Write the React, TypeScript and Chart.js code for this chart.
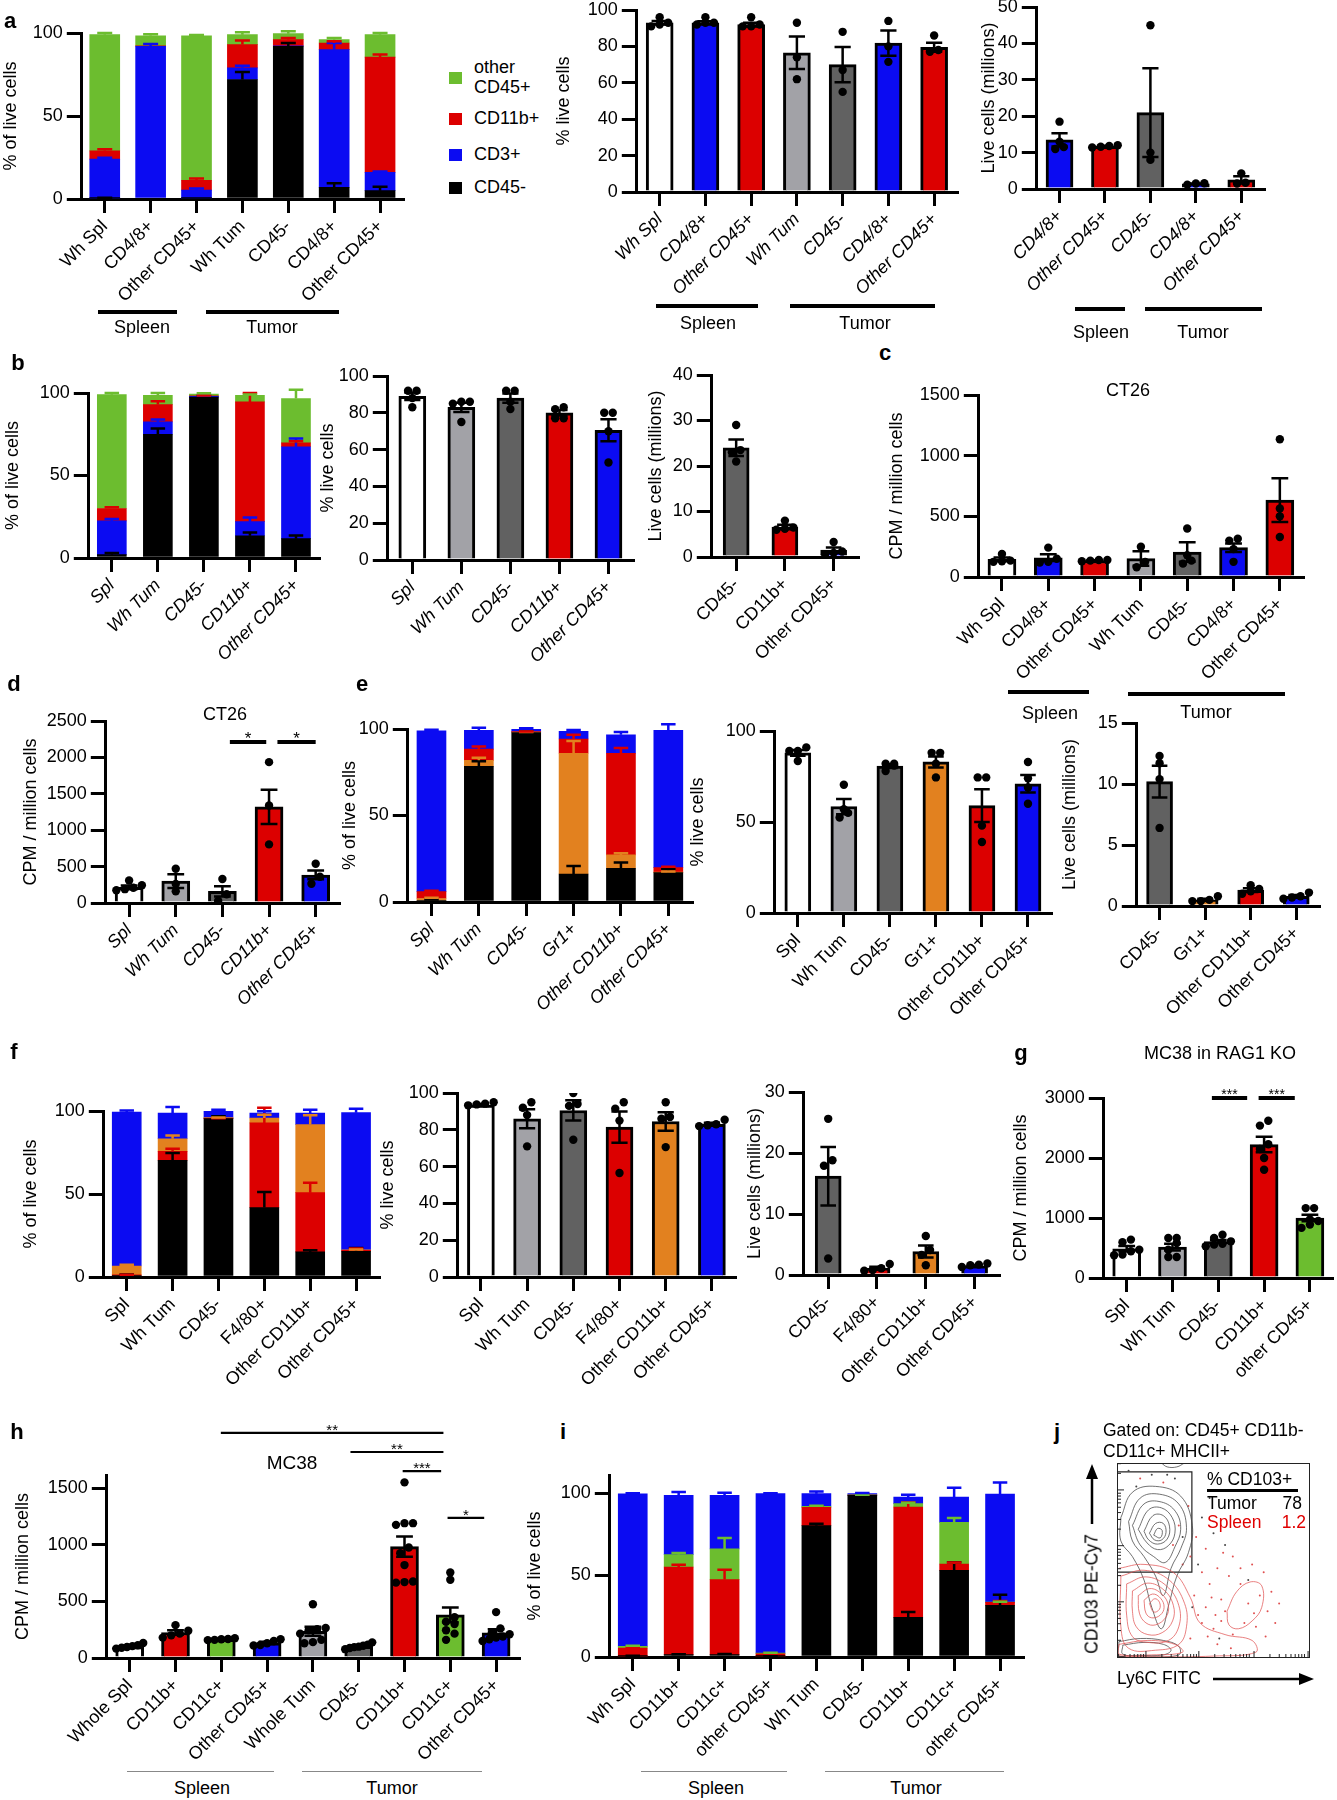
import React, { useEffect, useRef } from 'react';
import { Chart, registerables } from 'chart.js';

Chart.register(...registerables);

const FONT = "'Liberation Sans', Arial, Helvetica, sans-serif";
const FS = 18;

const GREEN = '#6cbd2f';
const RED = '#dc0000';
const BLUE = '#0b0bf2';
const BLACK = '#000000';
const ORANGE = '#e2811f';
const LIGHT = '#a2a2a7';
const DARK = '#616161';
const WHITE = '#ffffff';

// ===================== DATA =====================
// ---- a (stacked composition) ----
const a1Categories = ['Wh Spl', 'CD4/8+', 'Other CD45+', 'Wh Tum', 'CD45-', 'CD4/8+', 'Other CD45+'];
const a1CD45neg = [0.5, 0, 0.3, 72, 92, 7, 5];
const a1CD3 = [23.5, 92, 5, 7, 0.3, 83, 11];
const a1CD11b = [5, 0.3, 6, 14, 3.7, 4, 69.5];
const a1OtherCD45 = [70, 6, 87, 6, 3.6, 2, 13.5];
const a1CD45negErr = [0.3, 0, 0, 4.5, 2, 2.5, 2.4];
const a1CD3Err = [0.8, 1.4, 1, 1.3, 0, 4, 0.5];
const a1CD11bErr = [1, 0, 1, 2.5, 1, 1, 1.5];
const a1OtherCD45Err = [1, 1, 0.5, 1.5, 1.5, 1, 1];

// ---- a (middle) % live cells ----
const a2Categories = ['Wh Spl', 'CD4/8+', 'Other CD45+', 'Wh Tum', 'CD45-', 'CD4/8+', 'Other CD45+'];
const a2Means = [93, 93, 92, 76.5, 70, 81.8, 79.5];
const a2Sem = [1, 0.8, 1, 8.9, 9.7, 7, 2.5];
const a2Points = [[96, 93, 92, 91], [96, 93, 93, 92], [96, 92, 91, 91], [93, 74, 62], [88, 67, 55], [94, 80, 71.5], [86, 78, 77]];

// ---- a (right) live cells (millions) ----
const a3Categories = ['CD4/8+', 'Other CD45+', 'CD45-', 'CD4/8+', 'Other CD45+'];
const a3Means = [13.5, 11.7, 21, 1.4, 2.5];
const a3Sem = [1.8, 0.2, 12.2, 0.1, 1];
const a3Points = [[18.5, 13, 11.5, 11], [12, 11.8, 11.6, 11.4], [45, 10, 8], [1.5, 1.2, 1.6], [4.3, 1.7, 1.5]];

// ---- b (stacked) ----
const b1Categories = ['Spl', 'Wh Tum', 'CD45-', 'CD11b+', 'Other CD45+'];
const b1CD45neg = [2, 75, 97.5, 13.5, 11.7];
const b1CD3 = [20.5, 7.5, 0.5, 8.5, 55.7];
const b1CD11b = [7.5, 10.5, 0.3, 72.6, 2.4];
const b1OtherCD45 = [69, 5.6, 1, 4, 26.8];
const b1CD45negErr = [1, 3.5, 0.5, 2, 2];
const b1CD3Err = [1.2, 1.5, 0.3, 2.5, 5];
const b1CD11bErr = [0.8, 2, 0.2, 5.4, 1];
const b1OtherCD45Err = [1, 1.4, 0.5, 0.5, 5.4];

// ---- b (middle) ----
const b2Categories = ['Spl', 'Wh Tum', 'CD45-', 'CD11b+', 'Other CD45+'];
const b2Means = [89, 83, 88, 80, 70.5];
const b2Sem = [2, 2.5, 2.5, 1.5, 6];
const b2Points = [[92, 92, 88, 83], [86, 86, 85, 75], [92, 92, 86, 82], [83, 82, 77, 77], [80, 80, 70, 53]];

// ---- b (right) ----
const b3Categories = ['CD45-', 'CD11b+', 'Other CD45+'];
const b3Means = [24, 6.6, 1.5];
const b3Sem = [1.8, 0.5, 0.6];
const b3Points = [[29, 23.5, 23, 21], [8, 6.5, 6.2, 6], [3.3, 1.2, 0.9, 0.6]];

// ---- c CT26 CPM ----
const cCategories = ['Wh Spl', 'CD4/8+', 'Other CD45+', 'Wh Tum', 'CD45-', 'CD4/8+', 'Other CD45+'];
const cMeans = [145, 159, 136, 152, 206, 242, 633];
const cSem = [15, 28, 3, 60, 80, 35, 180];
const cPoints = [[190, 135, 130, 125], [242, 150, 120, 125], [140, 135, 130, 140], [250, 125, 80], [400, 180, 135, 110], [315, 300, 230, 125], [1135, 565, 500, 330]];

// ---- d CT26 CPM ----
const dCategories = ['Spl', 'Wh Tum', 'CD45-', 'CD11b+', 'Other CD45+'];
const dMeans = [215, 300, 160, 1320, 385];
const dSem = [25, 95, 70, 235, 60];
const dPoints = [[310, 245, 210, 190, 175], [470, 260, 160], [330, 120, 30], [1935, 1340, 805], [540, 360, 265]];
const dSigFrom = [2.16, 3.18];
const dSigTo = [2.94, 4.0];
const dSigY = [2210, 2210];
const dSigLabel = ['*', '*'];

// ---- e (stacked) ----
const e1Categories = ['Spl', 'Wh Tum', 'CD45-', 'Gr1+', 'Other CD11b+', 'Other CD45+'];
const e1CD45neg = [1, 78.4, 98, 16.2, 19.5, 17];
const e1Gr1 = [1, 3.5, 0.2, 69.8, 7.7, 0.3];
const e1OtherCD11b = [4, 6.5, 0.3, 8.2, 58.8, 2.6];
const e1OtherCD45 = [93, 10.8, 1.5, 4.4, 10.7, 79.3];
const e1CD45negErr = [0.5, 3, 0.5, 4.6, 3.3, 2];
const e1Gr1Err = [0.5, 1.5, 0.1, 7, 1, 0.3];
const e1OtherCD11bErr = [0.5, 1.5, 0.1, 2.5, 3, 0.5];
const e1OtherCD45Err = [0.5, 1.5, 0.4, 0.8, 1.5, 3.5];

// ---- e (middle) ----
const e2Categories = ['Spl', 'Wh Tum', 'CD45-', 'Gr1+', 'Other CD11b+', 'Other CD45+'];
const e2Means = [88, 58.5, 80.7, 83, 59, 71];
const e2Sem = [1.6, 4.2, 1, 3, 9, 4.8];
const e2Points = [[91, 89, 89, 83.5], [70.5, 57, 55, 52.5], [82, 82, 81, 78], [88, 88, 82, 74.5], [74.5, 74.5, 48, 39], [83, 74, 69, 60]];

// ---- e (right) ----
const e3Categories = ['CD45-', 'Gr1+', 'Other CD11b+', 'Other CD45+'];
const e3Means = [10.2, 0.5, 1.3, 0.8];
const e3Sem = [1.3, 0.1, 0.15, 0.1];
const e3Points = [[12.3, 11.7, 10.4, 6.4], [0.8, 0.5, 0.4, 0.4], [1.7, 1.4, 1.2, 1.0], [1.1, 0.8, 0.7, 0.6]];

// ---- f (stacked) ----
const f1Categories = ['Spl', 'Wh Tum', 'CD45-', 'F4/80+', 'Other CD11b+', 'Other CD45+'];
const f1CD45neg = [1, 70.3, 95.4, 41.8, 15.1, 15.5];
const f1F480 = [0.3, 5.4, 0.2, 51, 35.7, 0.6];
const f1OtherCD11b = [5.3, 7.6, 0.4, 3, 41, 0.2];
const f1OtherCD45 = [92.7, 15.5, 3.8, 3, 7, 82.7];
const f1CD45negErr = [0.5, 4.4, 1.4, 9.4, 1, 2];
const f1F480Err = [0.1, 1.5, 0.1, 9.2, 6, 1];
const f1OtherCD11bErr = [0.8, 2, 0.1, 2, 5.6, 0.2];
const f1OtherCD45Err = [1, 3.6, 1, 1, 2, 2.4];

// ---- f (middle) ----
const f2Categories = ['Spl', 'Wh Tum', 'CD45-', 'F4/80+', 'Other CD11b+', 'Other CD45+'];
const f2Means = [93.5, 86, 90.5, 81.5, 84.5, 83];
const f2Sem = [0.5, 5.2, 5.5, 8.5, 5, 0.8];
const f2Points = [[95, 94.2, 93.8, 93.3], [95, 92, 88, 71], [100, 94, 93, 74.6], [95, 91.5, 85, 56.5], [95, 87, 86, 70.6], [85.5, 83, 82.5, 82]];

// ---- f (right) ----
const f3Categories = ['CD45-', 'F4/80+', 'Other CD11b+', 'Other CD45+'];
const f3Means = [16.2, 1.1, 3.85, 1.5];
const f3Sem = [4.8, 0.25, 1.0, 0.15];
const f3Points = [[25.6, 18.8, 17.9, 2.7], [1.8, 1.1, 0.8, 0.7], [6.4, 4.1, 3.3, 1.6], [1.9, 1.7, 1.6, 1.3]];

// ---- g MC38 in RAG1 KO ----
const gCategories = ['Spl', 'Wh Tum', 'CD45-', 'CD11b+', 'other CD45+'];
const gMeans = [487, 515, 609, 2224, 1000];
const gSem = [45, 55, 25, 130, 55];
const gPoints = [[640, 595, 470, 445, 390, 380], [667, 667, 583, 472, 350, 350], [722, 667, 611, 572, 556, 528], [2620, 2540, 2230, 2150, 2000, 1805], [1165, 1165, 975, 950, 890, 835]];
const gSigFrom = [1.86, 2.88];
const gSigTo = [2.63, 3.67];
const gSigY = [3000, 3000];
const gSigLabel = ['***', '***'];

// ---- h MC38 ----
const hCategories = ['Whole Spl', 'CD11b+', 'CD11c+', 'Other CD45+', 'Whole Tum', 'CD45-', 'CD11b+', 'CD11c+', 'Other CD45+'];
const hMeans = [100, 225, 165, 134, 236, 104, 983, 380, 223];
const hSem = [8, 20, 5, 10, 40, 8, 90, 65, 30];
const hPoints = [
  [133, 112, 105, 97, 91, 83], [290, 240, 215, 200, 180], [175, 168, 165, 160, 158], [165, 150, 130, 115, 110],
  [475, 265, 255, 245, 215, 160, 140, 130], [138, 118, 108, 100, 96, 88, 78],
  [1550, 1190, 1190, 1175, 975, 925, 820, 675, 670, 665], [755, 690, 360, 320, 300, 245, 215, 160],
  [405, 260, 225, 210, 190, 180, 165, 150],
];
const hSigFrom = [1.99, 4.82, 5.96, 6.94];
const hSigTo = [6.85, 6.85, 6.8, 7.74];
const hSigY = [1986, 1818, 1650, 1236];
const hSigLabel = ['**', '**', '***', '*'];

// ---- i (stacked) ----
const iCategories = ['Wh Spl', 'CD11b+', 'CD11c+', 'other CD45+', 'Wh Tum', 'CD45-', 'CD11b+', 'CD11c+', 'other CD45+'];
const iCD45neg = [0.5, 1.4, 1.4, 0.3, 80.1, 98.6, 24.2, 52.8, 31.5];
const iCD11b = [5, 53.5, 45.8, 1.7, 11.2, 0.2, 67.3, 3.9, 1.8];
const iCD11c = [1, 7.5, 18.7, 0.4, 0.6, 0.1, 2, 25.4, 0.2];
const iOtherCD45 = [93, 36.2, 32.7, 97.2, 7.7, 0.7, 4.1, 15.5, 65.9];
const iCD45negErr = [0.2, 0.3, 0.5, 0.1, 1.2, 0.3, 3.2, 5, 6.5];
const iCD11bErr = [0.5, 1.4, 6, 0.3, 0.6, 0.1, 2.8, 1, 0.8];
const iCD11cErr = [0.4, 1, 6.7, 0.2, 0.3, 0.1, 0.5, 2.7, 0.2];
const iOtherCD45Err = [0.4, 2, 1.5, 0.3, 1.4, 0.4, 1.4, 5.7, 7];

// ---- j flow plot (axis units: log-decade space, 0..5) ----
const jGrayContours = [
  [[0.1, 3.6], [0.4, 4.25], [1.0, 4.4], [1.65, 4.15], [1.95, 3.4], [1.85, 2.7], [1.55, 2.1], [1.35, 1.4], [1.15, 0.75], [0.9, 1.3], [0.7, 2.0], [0.4, 2.6], [0.1, 3.0], [0.1, 3.6]],
  [[0.3, 3.5], [0.6, 4.1], [1.1, 4.2], [1.6, 3.95], [1.8, 3.35], [1.65, 2.8], [1.4, 2.3], [1.2, 1.6], [1.0, 2.1], [0.7, 2.6], [0.4, 3.0], [0.3, 3.5]],
  [[0.4, 3.4], [0.7, 3.95], [1.15, 4.0], [1.52, 3.75], [1.65, 3.3], [1.5, 2.85], [1.25, 2.45], [0.95, 2.6], [0.6, 2.9], [0.4, 3.4]],
  [[0.55, 3.3], [0.82, 3.8], [1.15, 3.85], [1.43, 3.6], [1.5, 3.2], [1.33, 2.88], [1.05, 2.78], [0.78, 2.95], [0.55, 3.3]],
  [[0.7, 3.25], [0.93, 3.65], [1.2, 3.65], [1.36, 3.38], [1.3, 3.05], [1.05, 2.92], [0.82, 3.03], [0.7, 3.25]],
  [[0.84, 3.2], [1.0, 3.45], [1.2, 3.45], [1.27, 3.22], [1.16, 3.03], [0.97, 3.03], [0.84, 3.2]],
  [[0.95, 3.15], [1.05, 3.32], [1.17, 3.27], [1.12, 3.08], [0.95, 3.15]],
  [[0.05, 0.42], [0.6, 0.5], [1.2, 0.45], [1.6, 0.3], [1.6, 0.08], [0.8, 0.03], [0.05, 0.05], [0.05, 0.42]],
  [[0.15, 0.33], [0.7, 0.4], [1.2, 0.35], [1.4, 0.2], [1.2, 0.08], [0.6, 0.07], [0.15, 0.1], [0.15, 0.33]],
  [[1.15, 5.0], [1.3, 4.9], [1.55, 4.9], [1.75, 5.0]],
];
const jRedContours = [
  [[0.05, 2.3], [0.7, 2.4], [1.45, 2.2], [1.9, 1.55], [2.15, 0.9], [2.8, 0.6], [3.5, 0.45], [3.6, 0.15], [2.5, 0.05], [1.0, 0.03], [0.05, 0.05]],
  [[0.1, 2.1], [0.7, 2.25], [1.35, 2.0], [1.75, 1.4], [1.8, 0.8], [1.6, 0.35], [1.0, 0.2], [0.3, 0.25], [0.1, 0.8], [0.1, 2.1]],
  [[0.25, 1.9], [0.75, 2.08], [1.28, 1.85], [1.6, 1.35], [1.6, 0.8], [1.33, 0.45], [0.8, 0.4], [0.4, 0.55], [0.25, 1.1], [0.25, 1.9]],
  [[0.4, 1.72], [0.8, 1.92], [1.22, 1.74], [1.46, 1.35], [1.44, 0.95], [1.17, 0.65], [0.8, 0.6], [0.5, 0.8], [0.4, 1.2], [0.4, 1.72]],
  [[0.55, 1.6], [0.85, 1.78], [1.16, 1.64], [1.33, 1.35], [1.27, 1.05], [1.0, 0.85], [0.75, 0.9], [0.58, 1.15], [0.55, 1.6]],
  [[0.7, 1.48], [0.92, 1.64], [1.13, 1.53], [1.22, 1.3], [1.12, 1.1], [0.9, 1.03], [0.75, 1.15], [0.7, 1.48]],
  [[0.84, 1.4], [0.98, 1.52], [1.1, 1.43], [1.1, 1.25], [0.95, 1.18], [0.84, 1.4]],
  [[2.85, 1.2], [3.1, 1.7], [3.45, 1.95], [3.75, 1.85], [3.75, 1.3], [3.5, 0.95], [3.15, 0.75], [2.9, 0.85], [2.85, 1.2]],
  [[0.05, 0.35], [0.8, 0.45], [1.5, 0.35], [1.7, 0.15], [0.9, 0.08], [0.05, 0.1], [0.05, 0.35]],
];
const jRedDots = [
  [1.9, 2.6], [2.2, 2.2], [2.4, 1.9], [2.6, 2.3], [2.0, 1.6], [2.3, 1.3], [2.7, 1.5], [2.9, 2.1], [3.2, 2.3], [3.5, 2.4],
  [3.8, 2.2], [4.0, 1.7], [3.9, 1.2], [3.6, 0.8], [3.3, 0.9], [3.0, 0.6], [2.7, 0.95], [2.5, 0.75], [2.2, 0.9], [2.1, 1.1],
  [2.45, 1.55], [2.8, 1.2], [3.4, 1.4], [3.7, 1.6], [4.1, 0.9], [3.85, 0.55], [2.6, 0.35], [2.95, 0.25], [1.9, 0.5], [2.35, 0.55],
  [3.2, 1.9], [3.0, 2.6], [2.75, 2.7], [1.7, 2.4], [1.45, 2.9], [1.6, 3.4], [1.85, 3.9], [1.2, 4.5], [0.6, 4.6], [2.05, 3.1],
  [2.3, 2.8], [4.2, 1.4], [3.55, 1.15], [2.55, 1.1],
];
const jGrayDots = [
  [1.5, 4.6], [0.9, 4.7], [2.2, 3.6], [2.5, 3.2], [0.3, 4.8], [1.7, 3.1], [2.8, 2.9], [2.1, 2.4], [1.95, 1.3], [2.65, 0.5],
  [3.4, 2.0], [0.5, 4.4], [1.3, 4.7], [2.4, 4.1],
];
const jGateX = [0, 1.94];
const jGateY = [2.2, 4.77];
const jMajorX = [0.75, 2.12, 3.55, 4.95];
const jMajorY = [0.03, 1.44, 2.88, 4.31];

// ===================== HELPERS =====================
type Area = { l: number; t: number; r: number; b: number };
type Box = { x: number; y: number; w: number; h: number };

function makeBox(area: Area, titleX: number, top: number, bottom: number, rightPad = 12): Box {
  const x = titleX - 10.8;
  return { x, y: top, w: area.r + rightPad - x, h: bottom - top };
}

function scalesFor(p: any) {
  const { area, box } = p;
  const yTicks: number[] = [];
  for (let v = 0; v <= p.max + 1e-9; v += p.step) yTicks.push(v);
  return {
    x: {
      type: 'category',
      offset: true,
      stacked: !!p.stacked,
      grid: { drawOnChartArea: false, offset: false, tickLength: 14, lineWidth: 3, color: '#000' },
      border: { display: true, width: 3, color: '#000' },
      ticks: {
        color: '#000',
        font: { family: FONT, size: FS, style: p.italic ? 'italic' : 'normal' },
        autoSkip: false,
        maxRotation: 45,
        minRotation: 45,
        padding: 3,
      },
      afterFit: (s: any) => { s.height = box.y + box.h - area.b; },
    },
    xp: {
      type: 'linear', display: false, offset: false, bounds: 'data',
      grid: { offset: false }, min: -0.5, max: p.cats.length - 0.5,
    },
    y: {
      type: 'linear',
      min: 0,
      max: p.max,
      stacked: !!p.stacked,
      afterBuildTicks: (s: any) => { s.ticks = yTicks.map((v) => ({ value: v })); },
      ticks: { color: '#000', font: { family: FONT, size: FS }, padding: 4, callback: (v: any) => String(v) },
      grid: { drawOnChartArea: false, tickLength: 15, lineWidth: 3, color: '#000' },
      border: { display: true, width: 3, color: '#000' },
      title: { display: true, text: p.yTitle, color: '#000', font: { family: FONT, size: FS }, padding: 0 },
      afterFit: (s: any) => { s.width = area.l - box.x; },
    },
  };
}

function commonOptions(p: any) {
  return {
    responsive: false,
    animation: false,
    events: [],
    layout: { padding: { left: 0, top: p.area.t - p.box.y, right: p.box.x + p.box.w - p.area.r, bottom: 0 } },
    plugins: { legend: { display: false }, tooltip: { enabled: false } },
    scales: scalesFor(p),
  };
}

function dotData(points: number[][], max: number, area: Area) {
  const n = points.length;
  const pxPerVal = (area.b - area.t) / max;
  const catW = (area.r - area.l) / n;
  const out: { x: number; y: number }[] = [];
  points.forEach((vals, ci) => {
    const order = vals.map((_, k) => k).sort((a, b) => vals[a] - vals[b]);
    let group: number[] = [];
    const flush = () => {
      const k = group.length;
      const sp = k > 1 ? Math.min(8.5, 27 / (k - 1)) : 0;
      group.forEach((idx, j) => out.push({ x: ci + ((j - (k - 1) / 2) * sp) / catW, y: vals[idx] }));
      group = [];
    };
    order.forEach((k) => {
      if (group.length && (vals[k] - vals[group[0]]) * pxPerVal > 7) flush();
      group.push(k);
    });
    flush();
  });
  return out;
}

const semPlugin = {
  id: 'semBars',
  afterDatasetDraw(chart: any, args: any) {
    const ds = chart.data.datasets[args.index];
    if (!ds.sem) return;
    const ys = chart.scales.y;
    const ctx = chart.ctx;
    ctx.save();
    ctx.strokeStyle = '#000';
    ctx.lineWidth = 2.5;
    args.meta.data.forEach((el: any, i: number) => {
      const m = ds.data[i];
      const s = ds.sem[i];
      if (!s) return;
      const yt = ys.getPixelForValue(m + s);
      const yb = ys.getPixelForValue(Math.max(0, m - s));
      const cap = el.width * 0.3;
      ctx.beginPath();
      ctx.moveTo(el.x, yt); ctx.lineTo(el.x, yb);
      ctx.moveTo(el.x - cap, yt); ctx.lineTo(el.x + cap, yt);
      ctx.moveTo(el.x - cap, yb); ctx.lineTo(el.x + cap, yb);
      ctx.stroke();
    });
    ctx.restore();
  },
};

const stackErrPlugin = {
  id: 'stackErr',
  afterDatasetsDraw(chart: any) {
    const ctx = chart.ctx;
    const ys = chart.scales.y;
    chart.data.datasets.forEach((ds: any, di: number) => {
      if (!ds.err) return;
      const meta = chart.getDatasetMeta(di);
      meta.data.forEach((el: any, i: number) => {
        const e = ds.err[i];
        if (!e) return;
        const len = ys.getPixelForValue(0) - ys.getPixelForValue(e);
        const cap = el.width * 0.25;
        ctx.save();
        ctx.strokeStyle = ds.backgroundColor;
        ctx.lineWidth = 2.5;
        ctx.beginPath();
        ctx.moveTo(el.x, el.y); ctx.lineTo(el.x, el.y - len);
        ctx.moveTo(el.x - cap, el.y - len); ctx.lineTo(el.x + cap, el.y - len);
        ctx.stroke();
        ctx.restore();
      });
    });
  },
};

function sigPlugin(from: number[], to: number[], yv: number[], labels: string[], lw: number, fs: number) {
  return {
    id: 'sig',
    afterDraw(chart: any) {
      const ctx = chart.ctx;
      const xs = chart.scales.xp;
      const ys = chart.scales.y;
      ctx.save();
      ctx.strokeStyle = '#000';
      ctx.fillStyle = '#000';
      ctx.lineWidth = lw;
      ctx.font = `${fs}px ${FONT}`;
      ctx.textAlign = 'center';
      ctx.textBaseline = 'alphabetic';
      from.forEach((f, k) => {
        const x1 = xs.getPixelForValue(f);
        const x2 = xs.getPixelForValue(to[k]);
        const y = ys.getPixelForValue(yv[k]);
        ctx.beginPath(); ctx.moveTo(x1, y); ctx.lineTo(x2, y); ctx.stroke();
        ctx.fillText(labels[k], (x1 + x2) / 2, y - lw / 2 - 2 + fs * 0.35);
      });
      ctx.restore();
    },
  };
}

function dotConfig(p: any) {
  return {
    type: 'bar',
    data: {
      labels: p.cats,
      datasets: [
        {
          type: 'bar', data: p.means, backgroundColor: p.colors, borderColor: '#000', borderWidth: 3,
          borderSkipped: 'bottom', barThickness: p.bw, grouped: false, order: 2, sem: p.sem,
        },
        {
          type: 'scatter', xAxisID: 'xp', yAxisID: 'y', data: dotData(p.points, p.max, p.area),
          pointRadius: 4.2, pointBackgroundColor: '#000', pointBorderColor: '#000', pointBorderWidth: 0, order: 1,
        },
      ],
    },
    options: commonOptions(p),
    plugins: [semPlugin, sigPlugin(p.sigFrom || [], p.sigTo || [], p.sigY || [], p.sigLabel || [], p.sigLw || 3, p.sigFs || 16)],
  };
}

function stackConfig(p: any) {
  return {
    type: 'bar',
    data: {
      labels: p.cats,
      datasets: p.layers.map((L: any) => ({
        type: 'bar', label: L.name, data: L.vals, backgroundColor: L.color, borderWidth: 0,
        barThickness: p.bw, err: L.errs, stack: 's',
      })),
    },
    options: commonOptions({ ...p, stacked: true }),
    plugins: [stackErrPlugin],
  };
}

function ChartCanvas({ box, make }: { box: Box; make: () => any }) {
  const ref = useRef<HTMLCanvasElement>(null);
  useEffect(() => {
    const chart = new Chart(ref.current as HTMLCanvasElement, make());
    return () => chart.destroy();
  }, []);
  return (
    <canvas
      ref={ref}
      width={Math.round(box.w)}
      height={Math.round(box.h)}
      style={{ position: 'absolute', left: box.x, top: box.y, width: Math.round(box.w), height: Math.round(box.h) }}
    />
  );
}

// ---------- j plot config ----------
const jArea: Area = { l: 1117, t: 1463, r: 1310, b: 1658 };
const jBox: Box = { x: 1100, y: 1450, w: 220, h: 220 };

const jTickPlugin = {
  id: 'jticks',
  afterDraw(chart: any) {
    const { ctx, chartArea: a } = chart;
    const xs = chart.scales.x;
    const ys = chart.scales.y;
    ctx.save();
    ctx.strokeStyle = '#222';
    ctx.lineWidth = 1;
    ctx.strokeRect(a.left + 0.5, a.top + 0.5, a.right - a.left - 1, a.bottom - a.top - 1);
    const minors = (majors: number[]) => {
      const sp = majors[1] - majors[0];
      const res: number[] = [];
      [majors[0] - sp, ...majors].forEach((m) => {
        for (let k = 2; k <= 9; k++) res.push(m + Math.log10(k) * sp);
      });
      return res;
    };
    ctx.beginPath();
    jMajorX.forEach((v) => { const px = xs.getPixelForValue(v); ctx.moveTo(px, a.bottom); ctx.lineTo(px, a.bottom - 7); });
    minors(jMajorX).forEach((v) => {
      if (v < 0 || v > 5) return;
      const px = xs.getPixelForValue(v); ctx.moveTo(px, a.bottom); ctx.lineTo(px, a.bottom - 4);
    });
    jMajorY.forEach((v) => { const py = ys.getPixelForValue(v); ctx.moveTo(a.left, py); ctx.lineTo(a.left + 7, py); });
    minors(jMajorY).forEach((v) => {
      if (v < 0 || v > 5) return;
      const py = ys.getPixelForValue(v); ctx.moveTo(a.left, py); ctx.lineTo(a.left + 4, py);
    });
    ctx.stroke();
    ctx.restore();
  },
};

function jConfig() {
  const toXY = (c: number[][]) => c.map(([x, y]) => ({ x, y }));
  const datasets: any[] = [];
  jRedContours.forEach((c) => datasets.push({
    type: 'scatter', data: toXY(c), showLine: true, borderColor: 'rgba(225,80,80,0.8)', borderWidth: 0.9,
    pointRadius: 0, tension: 0.4, fill: false,
  }));
  jGrayContours.forEach((c) => datasets.push({
    type: 'scatter', data: toXY(c), showLine: true, borderColor: 'rgba(70,70,70,0.85)', borderWidth: 0.9,
    pointRadius: 0, tension: 0.4, fill: false,
  }));
  datasets.push({ type: 'scatter', data: toXY(jRedDots), pointRadius: 1, pointBackgroundColor: '#e05050', pointBorderWidth: 0 });
  datasets.push({ type: 'scatter', data: toXY(jGrayDots), pointRadius: 1, pointBackgroundColor: '#444', pointBorderWidth: 0 });
  datasets.push({
    type: 'scatter',
    data: [
      { x: jGateX[0], y: jGateY[0] }, { x: jGateX[1], y: jGateY[0] }, { x: jGateX[1], y: jGateY[1] },
      { x: jGateX[0], y: jGateY[1] }, { x: jGateX[0], y: jGateY[0] },
    ],
    showLine: true, borderColor: '#222', borderWidth: 1.2, pointRadius: 0, tension: 0,
  });
  return {
    type: 'scatter',
    data: { datasets },
    options: {
      responsive: false, animation: false, events: [],
      layout: { padding: { left: jArea.l - jBox.x, top: jArea.t - jBox.y, right: jBox.x + jBox.w - jArea.r, bottom: jBox.y + jBox.h - jArea.b } },
      plugins: { legend: { display: false }, tooltip: { enabled: false } },
      scales: { x: { type: 'linear', min: 0, max: 5, display: false }, y: { type: 'linear', min: 0, max: 5, display: false } },
    },
    plugins: [jTickPlugin],
  };
}

// ===================== PANELS =====================
const A1: any = { area: { l: 82, t: 33, r: 403, b: 199 } };
A1.box = makeBox(A1.area, 11, 15, 330);
const A2: any = { area: { l: 637, t: 10, r: 957, b: 192 } };
A2.box = makeBox(A2.area, 564, -6, 320);
const A3: any = { area: { l: 1037, t: 7, r: 1264, b: 189 } };
A3.box = makeBox(A3.area, 989, -9, 321);
const B1: any = { area: { l: 89, t: 393, r: 319, b: 558 } };
B1.box = makeBox(B1.area, 13, 375, 685);
const B2: any = { area: { l: 388, t: 376, r: 633, b: 560 } };
B2.box = makeBox(B2.area, 328, 358, 690);
const B3: any = { area: { l: 712, t: 375, r: 858, b: 557 } };
B3.box = makeBox(B3.area, 656, 357, 692);
const CC: any = { area: { l: 979, t: 395, r: 1303, b: 577 } };
CC.box = makeBox(CC.area, 897, 377, 689);
const DD: any = { area: { l: 106, t: 721, r: 339, b: 903 } };
DD.box = makeBox(DD.area, 31, 700, 1030);
const E1: any = { area: { l: 408, t: 729, r: 692, b: 902 } };
E1.box = makeBox(E1.area, 350, 711, 1031);
const E2: any = { area: { l: 775, t: 731, r: 1051, b: 913 } };
E2.box = makeBox(E2.area, 698, 713, 1031);
const E3: any = { area: { l: 1137, t: 723, r: 1319, b: 906 } };
E3.box = makeBox(E3.area, 1070, 705, 1035);
const F1: any = { area: { l: 104, t: 1111, r: 379, b: 1277 } };
F1.box = makeBox(F1.area, 31, 1093, 1405);
const F2: any = { area: { l: 458, t: 1093, r: 735, b: 1277 } };
F2.box = makeBox(F2.area, 388, 1075, 1405);
const F3: any = { area: { l: 804, t: 1092, r: 999, b: 1275 } };
F3.box = makeBox(F3.area, 755, 1074, 1406);
const GG: any = { area: { l: 1104, t: 1098, r: 1336, b: 1278 } };
GG.box = makeBox(GG.area, 1021, 1070, 1413, 1);
const HH: any = { area: { l: 107, t: 1475, r: 519, b: 1658 } };
HH.box = makeBox(HH.area, 23, 1410, 1775);
const II: any = { area: { l: 610, t: 1475, r: 1023, b: 1657 } };
II.box = makeBox(II.area, 535, 1457, 1775);

const panels: { box: Box; make: () => any }[] = [
  {
    box: A1.box,
    make: () => stackConfig({
      ...A1, cats: a1Categories, max: 100, step: 50, yTitle: '% of live cells', bw: 30,
      layers: [
        { name: 'CD45-', color: BLACK, vals: a1CD45neg, errs: a1CD45negErr },
        { name: 'CD3+', color: BLUE, vals: a1CD3, errs: a1CD3Err },
        { name: 'CD11b+', color: RED, vals: a1CD11b, errs: a1CD11bErr },
        { name: 'other CD45+', color: GREEN, vals: a1OtherCD45, errs: a1OtherCD45Err },
      ],
    }),
  },
  {
    box: A2.box,
    make: () => dotConfig({
      ...A2, cats: a2Categories, means: a2Means, sem: a2Sem, points: a2Points, max: 100, step: 20,
      yTitle: '% live cells', bw: 27, italic: true, colors: [WHITE, BLUE, RED, LIGHT, DARK, BLUE, RED],
    }),
  },
  {
    box: A3.box,
    make: () => dotConfig({
      ...A3, cats: a3Categories, means: a3Means, sem: a3Sem, points: a3Points, max: 50, step: 10,
      yTitle: 'Live cells (millions)', bw: 27, italic: true, colors: [BLUE, RED, DARK, BLUE, RED],
    }),
  },
  {
    box: B1.box,
    make: () => stackConfig({
      ...B1, cats: b1Categories, max: 100, step: 50, yTitle: '% of live cells', bw: 29, italic: true,
      layers: [
        { name: 'CD45-', color: BLACK, vals: b1CD45neg, errs: b1CD45negErr },
        { name: 'CD3+', color: BLUE, vals: b1CD3, errs: b1CD3Err },
        { name: 'CD11b+', color: RED, vals: b1CD11b, errs: b1CD11bErr },
        { name: 'other CD45+', color: GREEN, vals: b1OtherCD45, errs: b1OtherCD45Err },
      ],
    }),
  },
  {
    box: B2.box,
    make: () => dotConfig({
      ...B2, cats: b2Categories, means: b2Means, sem: b2Sem, points: b2Points, max: 100, step: 20,
      yTitle: '% live cells', bw: 27, italic: true, colors: [WHITE, LIGHT, DARK, RED, BLUE],
    }),
  },
  {
    box: B3.box,
    make: () => dotConfig({
      ...B3, cats: b3Categories, means: b3Means, sem: b3Sem, points: b3Points, max: 40, step: 10,
      yTitle: 'Live cells (millions)', bw: 26, colors: [DARK, RED, BLUE],
    }),
  },
  {
    box: CC.box,
    make: () => dotConfig({
      ...CC, cats: cCategories, means: cMeans, sem: cSem, points: cPoints, max: 1500, step: 500,
      yTitle: 'CPM / million cells', bw: 28, colors: [WHITE, BLUE, RED, LIGHT, DARK, BLUE, RED],
    }),
  },
  {
    box: DD.box,
    make: () => dotConfig({
      ...DD, cats: dCategories, means: dMeans, sem: dSem, points: dPoints, max: 2500, step: 500,
      yTitle: 'CPM / million cells', bw: 28, italic: true, colors: [WHITE, LIGHT, DARK, RED, BLUE],
      sigFrom: dSigFrom, sigTo: dSigTo, sigY: dSigY, sigLabel: dSigLabel, sigLw: 4, sigFs: 17,
    }),
  },
  {
    box: E1.box,
    make: () => stackConfig({
      ...E1, cats: e1Categories, max: 100, step: 50, yTitle: '% of live cells', bw: 29, italic: true,
      layers: [
        { name: 'CD45-', color: BLACK, vals: e1CD45neg, errs: e1CD45negErr },
        { name: 'Gr1+', color: ORANGE, vals: e1Gr1, errs: e1Gr1Err },
        { name: 'Other CD11b+', color: RED, vals: e1OtherCD11b, errs: e1OtherCD11bErr },
        { name: 'Other CD45+', color: BLUE, vals: e1OtherCD45, errs: e1OtherCD45Err },
      ],
    }),
  },
  {
    box: E2.box,
    make: () => dotConfig({
      ...E2, cats: e2Categories, means: e2Means, sem: e2Sem, points: e2Points, max: 100, step: 50,
      yTitle: '% live cells', bw: 26, colors: [WHITE, LIGHT, DARK, ORANGE, RED, BLUE],
    }),
  },
  {
    box: E3.box,
    make: () => dotConfig({
      ...E3, cats: e3Categories, means: e3Means, sem: e3Sem, points: e3Points, max: 15, step: 5,
      yTitle: 'Live cells (millions)', bw: 26, colors: [DARK, ORANGE, RED, BLUE],
    }),
  },
  {
    box: F1.box,
    make: () => stackConfig({
      ...F1, cats: f1Categories, max: 100, step: 50, yTitle: '% of live cells', bw: 29,
      layers: [
        { name: 'CD45-', color: BLACK, vals: f1CD45neg, errs: f1CD45negErr },
        { name: 'F4/80+', color: RED, vals: f1F480, errs: f1F480Err },
        { name: 'Other CD11b+', color: ORANGE, vals: f1OtherCD11b, errs: f1OtherCD11bErr },
        { name: 'Other CD45+', color: BLUE, vals: f1OtherCD45, errs: f1OtherCD45Err },
      ],
    }),
  },
  {
    box: F2.box,
    make: () => dotConfig({
      ...F2, cats: f2Categories, means: f2Means, sem: f2Sem, points: f2Points, max: 100, step: 20,
      yTitle: '% live cells', bw: 27, colors: [WHITE, LIGHT, DARK, RED, ORANGE, BLUE],
    }),
  },
  {
    box: F3.box,
    make: () => dotConfig({
      ...F3, cats: f3Categories, means: f3Means, sem: f3Sem, points: f3Points, max: 30, step: 10,
      yTitle: 'Live cells (millions)', bw: 26, colors: [DARK, RED, ORANGE, BLUE],
    }),
  },
  {
    box: GG.box,
    make: () => dotConfig({
      ...GG, cats: gCategories, means: gMeans, sem: gSem, points: gPoints, max: 3000, step: 1000,
      yTitle: 'CPM / million cells', bw: 28, colors: [WHITE, LIGHT, DARK, RED, GREEN],
      sigFrom: gSigFrom, sigTo: gSigTo, sigY: gSigY, sigLabel: gSigLabel, sigLw: 4, sigFs: 14,
    }),
  },
  {
    box: HH.box,
    make: () => dotConfig({
      ...HH, cats: hCategories, means: hMeans, sem: hSem, points: hPoints, max: 1615, step: 500,
      yTitle: 'CPM / million cells', bw: 28, colors: [WHITE, RED, GREEN, BLUE, LIGHT, DARK, RED, GREEN, BLUE],
      sigFrom: hSigFrom, sigTo: hSigTo, sigY: hSigY, sigLabel: hSigLabel, sigLw: 2.2, sigFs: 15,
    }),
  },
  {
    box: II.box,
    make: () => stackConfig({
      ...II, cats: iCategories, max: 111, step: 50, yTitle: '% of live cells', bw: 29,
      layers: [
        { name: 'CD45-', color: BLACK, vals: iCD45neg, errs: iCD45negErr },
        { name: 'CD11b+', color: RED, vals: iCD11b, errs: iCD11bErr },
        { name: 'CD11c+', color: GREEN, vals: iCD11c, errs: iCD11cErr },
        { name: 'other CD45+', color: BLUE, vals: iOtherCD45, errs: iOtherCD45Err },
      ],
    }),
  },
  { box: jBox, make: jConfig },
];

// ===================== OVERLAYS =====================
function T(props: { x: number; y: number; children: any; size?: number; bold?: boolean; color?: string; align?: 'center' | 'left' | 'right' }) {
  const { x, y, children, size = FS, bold = false, color = '#000', align = 'center' } = props;
  const tx = align === 'center' ? '-50%' : align === 'left' ? '0' : '-100%';
  return (
    <div style={{ position: 'absolute', left: x, top: y, transform: `translate(${tx},-50%)`, fontSize: size, fontWeight: bold ? 700 : 400, color, whiteSpace: 'nowrap', lineHeight: 1.15, fontFamily: FONT }}>
      {children}
    </div>
  );
}

function HLine({ x1, x2, y, w = 3.5, color = '#000' }: { x1: number; x2: number; y: number; w?: number; color?: string }) {
  return <div style={{ position: 'absolute', left: x1, top: y - w / 2, width: x2 - x1, height: w, background: color }} />;
}

const panelLetters = [
  { t: 'a', x: 10, y: 21 }, { t: 'b', x: 18, y: 363 }, { t: 'c', x: 885, y: 353 }, { t: 'd', x: 14, y: 684 },
  { t: 'e', x: 362, y: 684 }, { t: 'f', x: 14, y: 1052 }, { t: 'g', x: 1021, y: 1053 }, { t: 'h', x: 17, y: 1432 },
  { t: 'i', x: 563, y: 1432 }, { t: 'j', x: 1057, y: 1432 },
];

const groupLines = [
  { x1: 98, x2: 177, y: 312, w: 3.5, c: '#000' }, { x1: 206, x2: 339, y: 312, w: 3.5, c: '#000' },
  { x1: 656, x2: 758, y: 306, w: 3.5, c: '#000' }, { x1: 790, x2: 935, y: 306, w: 3.5, c: '#000' },
  { x1: 1075, x2: 1125, y: 309, w: 3.5, c: '#000' }, { x1: 1145, x2: 1262, y: 309, w: 3.5, c: '#000' },
  { x1: 1008, x2: 1089, y: 692, w: 3.5, c: '#000' }, { x1: 1128, x2: 1285, y: 694, w: 3.5, c: '#000' },
  { x1: 127, x2: 274, y: 1771, w: 1, c: '#888' }, { x1: 302, x2: 482, y: 1771, w: 1, c: '#888' },
  { x1: 641, x2: 787, y: 1771, w: 1, c: '#888' }, { x1: 825, x2: 1004, y: 1771, w: 1, c: '#888' },
];

const groupLabels = [
  { t: 'Spleen', x: 142, y: 327 }, { t: 'Tumor', x: 272, y: 327 },
  { t: 'Spleen', x: 708, y: 323 }, { t: 'Tumor', x: 865, y: 323 },
  { t: 'Spleen', x: 1101, y: 332 }, { t: 'Tumor', x: 1203, y: 332 },
  { t: 'Spleen', x: 1050, y: 713 }, { t: 'Tumor', x: 1206, y: 712 },
  { t: 'Spleen', x: 202, y: 1788 }, { t: 'Tumor', x: 392, y: 1788 },
  { t: 'Spleen', x: 716, y: 1788 }, { t: 'Tumor', x: 916, y: 1788 },
];

const chartTitles = [
  { t: 'CT26', x: 1128, y: 390, s: 18 }, { t: 'CT26', x: 225, y: 714, s: 18 },
  { t: 'MC38 in RAG1 KO', x: 1220, y: 1053, s: 18 }, { t: 'MC38', x: 292, y: 1463, s: 19 },
];

const aLegend = [
  { lines: ['other', 'CD45+'], color: GREEN, y: 78 },
  { lines: ['CD11b+'], color: RED, y: 119 },
  { lines: ['CD3+'], color: BLUE, y: 155 },
  { lines: ['CD45-'], color: BLACK, y: 188 },
];

export default function App() {
  return (
    <div style={{ position: 'absolute', left: 0, top: 0, width: 1337, height: 1800, background: '#fff', overflow: 'hidden', fontFamily: FONT, color: '#000' }}>
      {panels.map((p, k) => <ChartCanvas key={k} box={p.box} make={p.make} />)}

      {panelLetters.map((l, k) => <T key={'l' + k} x={l.x} y={l.y} size={22} bold>{l.t}</T>)}
      {groupLines.map((g, k) => <HLine key={'g' + k} x1={g.x1} x2={g.x2} y={g.y} w={g.w} color={g.c} />)}
      {groupLabels.map((g, k) => <T key={'gl' + k} x={g.x} y={g.y}>{g.t}</T>)}
      {chartTitles.map((g, k) => <T key={'ct' + k} x={g.x} y={g.y} size={g.s}>{g.t}</T>)}

      {aLegend.map((L, k) => (
        <React.Fragment key={'lg' + k}>
          <div style={{ position: 'absolute', left: 449, top: L.y - 6, width: 13, height: 12, background: L.color }} />
          <div style={{ position: 'absolute', left: 474, top: L.y, transform: 'translateY(-50%)', fontSize: FS, lineHeight: 1.1, fontFamily: FONT }}>
            {L.lines.map((s, j) => <div key={j}>{s}</div>)}
          </div>
        </React.Fragment>
      ))}

      {/* j annotations */}
      <T x={1103} y={1430} align="left" size={17.5}>Gated on: CD45+ CD11b-</T>
      <T x={1103} y={1451} align="left" size={17.5}>CD11c+ MHCII+</T>
      <T x={1207} y={1479} align="left" size={17.5}>% CD103+</T>
      <HLine x1={1207} x2={1298} y={1490} w={3} />
      <T x={1207} y={1503} align="left" size={17.5}>Tumor</T>
      <T x={1302} y={1503} align="right" size={17.5}>78</T>
      <T x={1207} y={1522} align="left" size={17.5} color="#e00000">Spleen</T>
      <T x={1306} y={1522} align="right" size={17.5} color="#e00000">1.2</T>
      <div style={{ position: 'absolute', left: 1092, top: 1594, transform: 'translate(-50%,-50%) rotate(-90deg)', fontSize: 17.5, whiteSpace: 'nowrap', fontFamily: FONT }}>CD103 PE-Cy7</div>
      <T x={1117} y={1678} align="left" size={17.5}>Ly6C FITC</T>
      <svg style={{ position: 'absolute', left: 0, top: 0 }} width={1337} height={1800}>
        <line x1={1092} y1={1524} x2={1092} y2={1476} stroke="#000" strokeWidth={2.5} />
        <polygon points="1092,1464 1086,1479 1098,1479" fill="#000" />
        <line x1={1213} y1={1679} x2={1300} y2={1679} stroke="#000" strokeWidth={2.5} />
        <polygon points="1314,1679 1299,1673 1299,1685" fill="#000" />
      </svg>
    </div>
  );
}
